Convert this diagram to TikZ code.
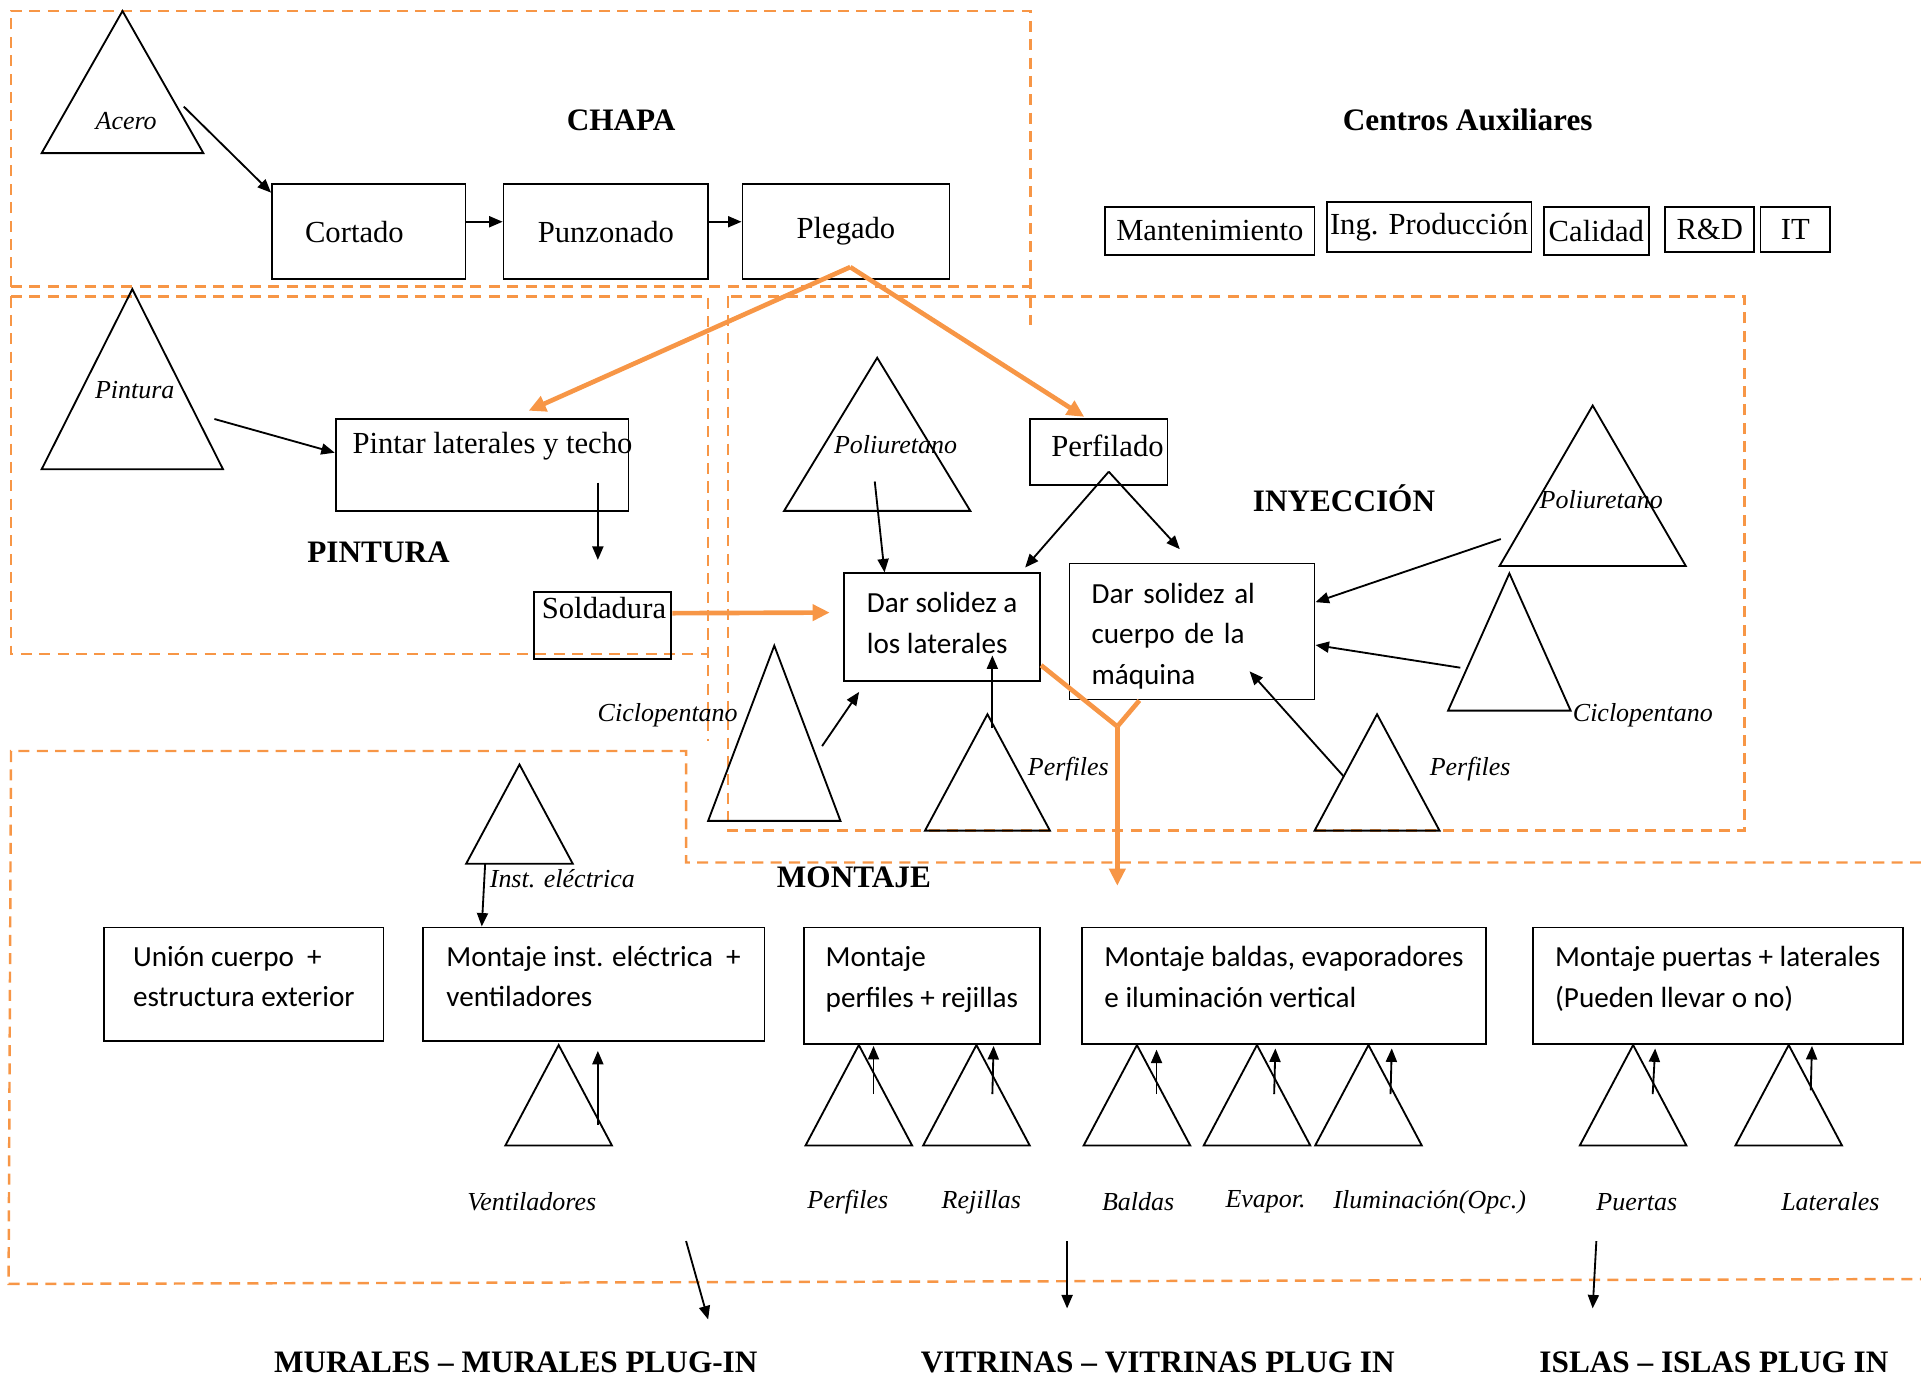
\documentclass[tikz,border=0pt]{standalone}
\usepackage{fontspec}
\setmainfont{Liberation Serif}
\newfontfamily\calfont{Carlito}
\usetikzlibrary{arrows.meta,calc}
\definecolor{orangeline}{RGB}{247,150,70}

\tikzset{
  box/.style={draw, line width=1.5pt, inner sep=0pt, font=\fontsize{25}{30}\selectfont},
  cbox/.style={draw, line width=1.5pt, inner sep=0pt, align=left, font=\calfont\fontsize{23.8}{33}\selectfont},
  tri/.style={draw, line width=1.5pt, line join=miter},
  arr/.style={-{Triangle[length=11pt,width=9pt]}, line width=1.5pt},
  oarr/.style={orangeline, line width=3.8pt, -{Triangle[length=14pt,width=13pt]}},
  oline/.style={orangeline, line width=3.8pt},
  zone/.style={orangeline, line width=2pt, dash pattern=on 9pt off 6pt},
  ital/.style={inner sep=0pt, font=\itshape\fontsize{21.2}{25}\selectfont},
  ttl/.style={inner sep=0pt, font=\bfseries\fontsize{25.5}{30}\selectfont},
  srf/.style={inner sep=0pt, font=\fontsize{25}{30}\selectfont},
}
% triangle: apex (x,y), half base width, height
\newcommand\tri[4]{\draw[tri] (#1,#2) -- ++(#3,#4) -- ++({-2*(#3)},0) -- cycle;}
% invisible struts to set the text block's height/depth inside the boxes
\newcommand\dpt[1]{\rule[-#1]{0pt}{#1}}
\newcommand\hgt[1]{\rule{0pt}{#1}}

\begin{document}
\begin{tikzpicture}[x=1pt,y=-1pt]
\useasboundingbox (0,0) rectangle (1568,1124);

% ---- dashed areas ----
\draw[zone] (9,234) -- (9,9) -- (841,9) -- (841,265);
\draw[zone] (9,234) -- (841,234);
\draw[zone] (9,242) -- (578,242) -- (578,605);
\draw[zone] (9,242) -- (9,534) -- (578,534);
\draw[zone] (594,242) rectangle (1424,678);
\draw[zone] (1568,704) -- (560,704) -- (560,613) -- (9,613) -- (7,1048) -- (1568,1044);

% ---- CHAPA ----
\tri{100}{9}{66}{116}
\node[ital] (acero) at (103,99) {Acero};
\node[ttl] (chapa) at (507,98) {CHAPA};
\node[box, minimum width=158pt, minimum height=78pt, inner xsep=27pt, text width=104pt, align=left] (cortado) at (301,189) {Cortado};
\node[box, minimum width=167pt, minimum height=78pt] (punz) at (494.5,189) {Punzonado};
\node[box, minimum width=169pt, minimum height=78pt] (pleg) at (690.5,189) {Plegado};
\coordinate (acero-o) at (150,87);
\draw[arr] (acero-o) -- ([yshift=-8pt]cortado.north west);
\draw[arr] ([yshift=8pt]cortado.east) -- ([yshift=8pt]punz.west);
\draw[arr] ([yshift=8pt]punz.east) -- ([yshift=8pt]pleg.west);

% ---- Centros Auxiliares ----
\node[ttl] (aux) at (1198,98) {Centros Auxiliares};
\node[box, minimum width=171pt, minimum height=39pt] (mant) at (987.5,188.5) {Mantenimiento};
\node[box, minimum width=167pt, minimum height=41pt] (ingp) at (1166.5,185.5) {Ing. Producción};
\node[box, minimum width=86pt, minimum height=39pt] (cal) at (1303,188.5) {Calidad};
\node[box, minimum width=73pt, minimum height=37pt] (rd) at (1395.5,187.5) {R\&D};
\node[box, minimum width=57pt, minimum height=37pt] (it) at (1465.5,187.5) {IT};

% ---- PINTURA ----
\tri{108}{236}{74}{147}
\node[ital] (pintura) at (110,318) {Pintura};
\node[box, minimum width=239pt, minimum height=75pt] (pintar) at (393.5,379.5) {};
\node[srf] (pintar-t) at (402,364) {Pintar laterales y techo};
\node[ttl] (pinttl) at (309,451) {PINTURA};
\node[box, minimum width=112pt, minimum height=55pt] (sold) at (492,510.5) {};
\node[srf] (sold-t) at (493,496) {Soldadura};
\coordinate (pintura-o) at (175,342);
\draw[arr] (pintura-o) -- ([yshift=10pt]pintar.west);
\coordinate (pintar-o) at (488,394);
\coordinate (sold-in) at (488,457);
\draw[arr] (pintar-o) -- (sold-in);

% ---- INYECCION ----
\node[ttl] (inyttl) at (1097,407) {INYECCIÓN};
\node[box, minimum width=112pt, minimum height=54pt] (perf) at (897,369) {};
\node[srf] (perf-t) at (904,364) {Perfilado};
\node[cbox, minimum width=160pt, minimum height=88pt] (lat) at (769,512) {Dar solidez a\\los laterales\dpt{7pt}};
\node[cbox, minimum width=200pt, minimum height=111pt, inner xsep=18pt, text width=164pt] (cuer) at (973,515.5) {\hgt{24pt}Dar solidez al\\cuerpo de la\\máquina};

\tri{716}{292}{76}{125}
\node[ital] (pol1) at (731,363) {Poliuretano};
\tri{1300}{331}{76}{131}
\node[ital] (pol2) at (1307,408) {Poliuretano};
\tri{1232}{468}{50}{112}
\node[ital] (cic2) at (1341,584) {Ciclopentano};
\tri{1124}{583}{51}{95}
\node[ital] (perf2) at (1200,628) {Perfiles};
\tri{632}{527}{54}{143}
\node[ital] (cic1) at (545,584) {Ciclopentano};
\tri{806}{583}{51}{95}
\node[ital] (perf1) at (872,628) {Perfiles};

\coordinate (pol1-o) at (714,393);
\draw[arr] (pol1-o) -- ([xshift=-47pt]lat.north);
\coordinate (perf-o) at (905,385);
\draw[arr] (perf-o) -- ([xshift=-13pt,yshift=4pt]lat.north east);
\draw[arr] (perf-o) -- ([xshift=-10pt,yshift=11pt]cuer.north);
\coordinate (pol2-o) at (1225,440);
\draw[arr] (pol2-o) -- ([yshift=24pt]cuer.east);
\coordinate (cic2-o) at (1192,545);
\draw[arr] (cic2-o) -- ([yshift=-11pt]cuer.east);
\coordinate (perf2-o) at (1097,634);
\coordinate (cuer-in) at (1020,548);
\draw[arr] (perf2-o) -- (cuer-in);
\coordinate (cic1-o) at (671,609);
\draw[arr] (cic1-o) -- ([xshift=13pt,yshift=-8pt]lat.south west);
\coordinate (perf1-o) at (810,594);
\coordinate (lat-in) at (810,535);
\draw[arr] (perf1-o) -- (lat-in);

% ---- orange flow ----
\coordinate (pleg-o) at (694,218);
\draw[oarr] (pleg-o) -- ([xshift=38pt,yshift=6pt]pintar.north);
\draw[oarr] (pleg-o) -- ([xshift=-12pt,yshift=1pt]perf.north);
\draw[oarr] ([yshift=10pt]sold.east) -- ([xshift=-11pt,yshift=12pt]lat.west);
\coordinate (join) at (912,593);
\coordinate (mont-in) at (912,723);
\draw[oline] ([yshift=-31pt]lat.east) -- (join);
\draw[oline] ([xshift=-43pt]cuer.south) -- (join);
\draw[oarr] (join) -- (mont-in);

% ---- MONTAJE ----
\node[ttl] (monttl) at (697,716) {MONTAJE};
\tri{424}{624}{43.5}{81}
\node[ital] (inst) at (459,717) {Inst. eléctrica};

\node[cbox, minimum width=228pt, minimum height=93pt] (union) at (199,803.5) {Unión cuerpo~ +\\estructura exterior\dpt{13pt}};
\node[cbox, minimum width=279pt, minimum height=93pt] (mie) at (484.5,803.5) {Montaje inst. eléctrica~ +\\ventiladores\dpt{13pt}};
\node[cbox, minimum width=193pt, minimum height=95pt] (mpr) at (752.5,804.5) {Montaje\\perfiles + rejillas\dpt{14pt}};
\node[cbox, minimum width=330pt, minimum height=95pt] (mbe) at (1048,804.5) {Montaje baldas, evaporadores\\e iluminación vertical\dpt{14pt}};
\node[cbox, minimum width=302pt, minimum height=95pt] (mpl) at (1402,804.5) {Montaje puertas + laterales\\(Pueden llevar o no)\dpt{14pt}};

\coordinate (inst-o) at (396,705);
\draw[arr] (inst-o) -- ([xshift=49pt]mie.north west);

% supply triangles under the assembly boxes
\tri{456}{853}{43.5}{82}
\tri{701}{853}{43.5}{82}
\tri{797}{853}{43.5}{82}
\tri{928}{853}{43.5}{82}
\tri{1026}{853}{43.5}{82}
\tri{1117}{853}{43.5}{82}
\tri{1333}{853}{43.5}{82}
\tri{1460}{853}{43.5}{82}

\node[ital] (vent) at (434,981) {Ventiladores};
\node[ital] (perf3) at (692,981) {Perfiles};
\node[ital] (rej) at (801,981) {Rejillas};
\node[ital] (bal) at (929,981) {Baldas};
\node[ital] (eva) at (1033,981) {Evapor.};
\node[ital] (ilu) at (1167,981) {Iluminación(Opc.)};
\node[ital] (pue) at (1336,981) {Puertas};
\node[ital] (latl) at (1494,981) {Laterales};

\coordinate (vent-o) at (488,918);
\draw[arr] (vent-o) -- ([xshift=3.5pt,yshift=-7pt]mie.south);
\coordinate (perf3-o) at (713,893);
\draw[arr] (perf3-o) -- ([xshift=-39.5pt,yshift=-1pt]mpr.south);
\coordinate (rej-o) at (810,893);
\draw[arr] (rej-o) -- ([xshift=58.5pt,yshift=-1pt]mpr.south);
\coordinate (bal-o) at (944,893);
\draw[arr] (bal-o) -- ([xshift=-104pt,yshift=-4pt]mbe.south);
\coordinate (eva-o) at (1040,893);
\draw[arr] (eva-o) -- ([xshift=-7pt,yshift=-3pt]mbe.south);
\coordinate (ilu-o) at (1135,893);
\draw[arr] (ilu-o) -- ([xshift=88pt,yshift=-3pt]mbe.south);
\coordinate (pue-o) at (1349,893);
\draw[arr] (pue-o) -- ([xshift=-51pt,yshift=-3pt]mpl.south);
\coordinate (latl-o) at (1478,890);
\draw[arr] (latl-o) -- ([xshift=77pt,yshift=-1pt]mpl.south);

% ---- products ----
\node[ttl] (mur) at (421,1112) {MURALES – MURALES PLUG-IN};
\node[ttl] (vit) at (945,1112) {VITRINAS – VITRINAS PLUG IN};
\node[ttl] (isl) at (1399,1112) {ISLAS – ISLAS PLUG IN};
\coordinate (mur-o) at (560,1013);
\coordinate (mur-e) at (578,1077);
\draw[arr] (mur-o) -- (mur-e);
\coordinate (vit-o) at (871,1013);
\coordinate (vit-e) at (871,1068);
\draw[arr] (vit-o) -- (vit-e);
\coordinate (isl-o) at (1303,1013);
\coordinate (isl-e) at (1300,1068);
\draw[arr] (isl-o) -- (isl-e);
\end{tikzpicture}
\end{document}
